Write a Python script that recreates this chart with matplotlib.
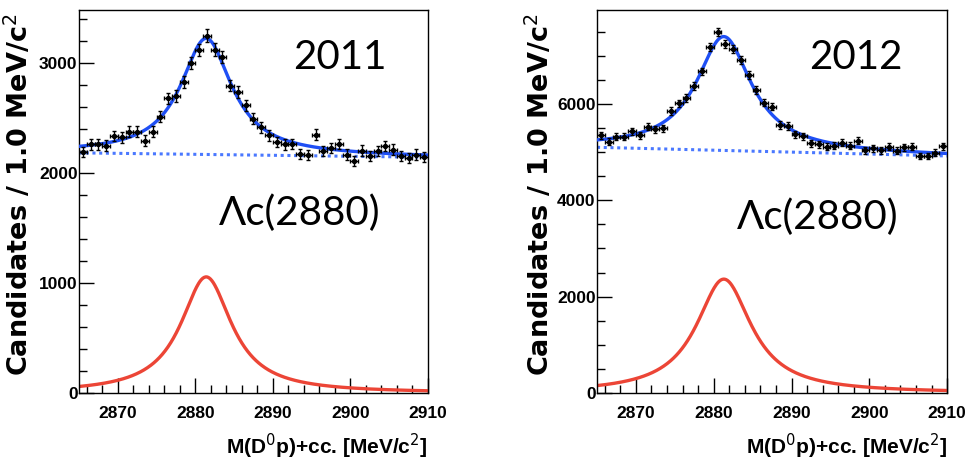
import numpy as np
import matplotlib.pyplot as plt
from matplotlib.ticker import MultipleLocator

# 1 MeV bins between 2865 and 2910 MeV
bin_lo = 2865.0
bin_hi = 2910.0
bin_width = 1.0
mass = np.arange(bin_lo + bin_width / 2, bin_hi, bin_width)

counts_2011 = [2191, 2258, 2258, 2248, 2336, 2324, 2373, 2373, 2294, 2373,
               2509, 2676, 2697, 2827, 3000, 3115, 3248, 3121, 3052, 2794,
               2736, 2615, 2494, 2415, 2342, 2282, 2258, 2264, 2173, 2161,
               2348, 2197, 2227, 2264, 2167, 2106, 2203, 2152, 2197, 2242,
               2212, 2152, 2136, 2167, 2142]

counts_2012 = [5354, 5215, 5319, 5319, 5437, 5354, 5528, 5472, 5493, 5854,
               6014, 6118, 6375, 6674, 7174, 7493, 7243, 7139, 6917, 6604,
               6292, 6028, 5944, 5563, 5542, 5375, 5333, 5181, 5167, 5111,
               5132, 5194, 5132, 5236, 5042, 5076, 5042, 5111, 5028, 5097,
               5111, 4917, 4917, 4986, 5125]

# fit results: Breit-Wigner signal + linear background
peak_2011, width_2011, amp_2011 = 2881.4, 8.0, 1055
bkg_2011 = [2182, 2142]
peak_2012, width_2012, amp_2012 = 2881.3, 8.6, 2364
bkg_2012 = [5100, 4920]

BLUE = '#1f4ff5'
BLUE_DOT = '#4a78ff'
RED = '#ec4536'
TICK_FONT = ['Liberation Sans', 'DejaVu Sans']
TEXT_FONT = ['Lato', 'DejaVu Sans']


def breit_wigner(x, m0, gamma, amp):
    return amp / (1 + ((x - m0) / (gamma / 2)) ** 2)


def draw_panel(ax, counts, peak, width, amp, bkg, ymax, major, minor, year,
               year_pos, name_pos, ylabel_x):
    counts = np.array(counts, dtype=float)
    x = np.linspace(bin_lo, bin_hi, 500)
    background = bkg[0] + (bkg[1] - bkg[0]) * (x - bin_lo) / (bin_hi - bin_lo)
    signal = breit_wigner(x, peak, width, amp)

    ax.plot(x, signal, color=RED, lw=2.4, zorder=2)
    ax.plot(x, background, color=BLUE_DOT, lw=2.2, ls=(0, (1, 1.2)), zorder=2)
    ax.plot(x, background + signal, color=BLUE, lw=2.4, zorder=3)
    ax.errorbar(mass, counts, xerr=bin_width / 2, yerr=np.sqrt(counts),
                fmt='o', ms=2.8, color='black', ecolor='black',
                elinewidth=1.0, capsize=1.5, capthick=1.0, zorder=4)

    ax.set_xlim(bin_lo, bin_hi)
    ax.set_ylim(0, ymax)
    ax.xaxis.set_major_locator(MultipleLocator(10))
    ax.xaxis.set_minor_locator(MultipleLocator(2))
    ax.yaxis.set_major_locator(MultipleLocator(major))
    ax.yaxis.set_minor_locator(MultipleLocator(minor))
    ax.tick_params(which='both', direction='in', top=False, right=False,
                   width=1.0, color='black')
    ax.tick_params(which='major', length=11)
    ax.tick_params(which='minor', length=6)
    ax.tick_params(axis='x', pad=9)
    ax.tick_params(axis='y', pad=1)
    for lab in ax.get_xticklabels() + ax.get_yticklabels():
        lab.set_family(TICK_FONT)
        lab.set_fontsize(12.5)
        lab.set_fontweight('bold')
    for s in ax.spines.values():
        s.set_linewidth(1.0)
        s.set_color('black')

    ax.set_xlabel('M(D$^{0}$p)+cc. [MeV/c$^{2}$]', family=TICK_FONT,
                  fontsize=15, fontweight='bold', loc='right')
    ax.xaxis.set_label_coords(1.0, -0.10)
    ax.set_ylabel('Candidates / 1.0 MeV/c$^{2}$', family='DejaVu Sans',
                  fontweight='bold', fontsize=19.5, loc='top')
    ax.yaxis.set_label_coords(ylabel_x, 0.99)

    ax.text(year_pos[0], year_pos[1], year, transform=ax.transAxes,
            family=TEXT_FONT, fontsize=29, ha='center', va='center')
    ax.text(name_pos[0], name_pos[1], 'Λc(2880)', transform=ax.transAxes,
            family=TEXT_FONT, fontsize=29, ha='center', va='center')


fig = plt.figure(figsize=(9.67, 4.61), dpi=100)
ax1 = fig.add_axes([0.0817, 0.1475, 0.3609, 0.8308])
ax2 = fig.add_axes([0.6174, 0.1475, 0.3620, 0.8308])

draw_panel(ax1, counts_2011, peak_2011, width_2011, amp_2011, bkg_2011,
           3480, 1000, 200, '2011', (0.748, 0.877), (0.633, 0.47), -0.129)
draw_panel(ax2, counts_2012, peak_2012, width_2012, amp_2012, bkg_2012,
           7950, 2000, 500, '2012', (0.74, 0.877), (0.629, 0.46), -0.12)

fig.savefig('out.png', dpi=100)
